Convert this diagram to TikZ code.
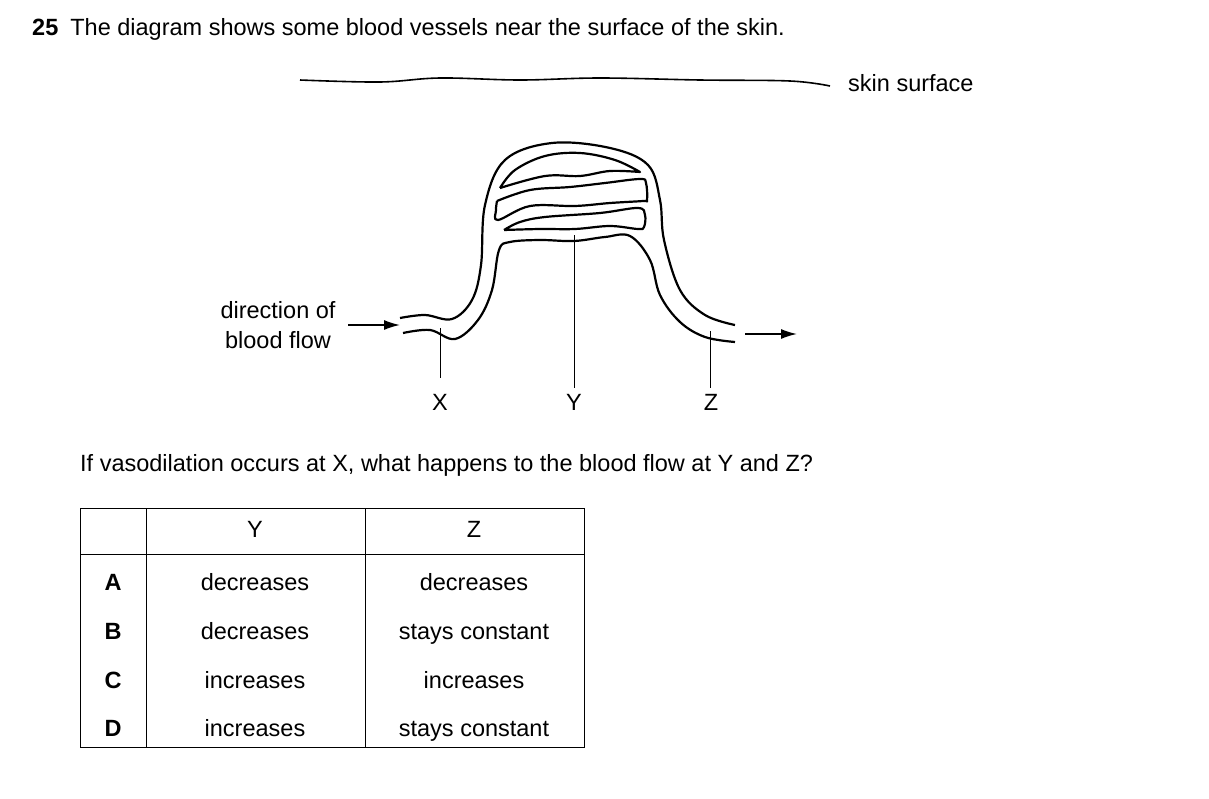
\documentclass[tikz,border=0pt]{standalone}
\usepackage{fontspec}
\setmainfont{Liberation Sans}
\usetikzlibrary{arrows.meta}
\begin{document}
\begin{tikzpicture}[x=1pt,y=-1pt,
  txt/.style={font=\fontsize{23.5}{28}\selectfont,inner sep=0pt,text height=17pt,text depth=5pt},
  ves/.style={line width=2.2pt,line join=round},
  thin/.style={line width=1pt},
  arr/.style={line width=1.6pt,-{Latex[length=16pt,width=10pt]}}]
\useasboundingbox (0,0) rectangle (1209,798);
\node[txt,anchor=west] (q) at (32,29) {\textbf{25}\hspace{12pt}The diagram shows some blood vessels near the surface of the skin.};
% skin
\draw[line width=1.6pt] plot[smooth,tension=0.6] coordinates {(300,80) (380,82) (440,78) (520,80) (600,78) (700,80) (790,81) (830,86)};
\node[txt,anchor=west] (skin) at (848,85) {skin surface};
% outer vessel
\draw[ves] plot[smooth,tension=0.6] coordinates {(400,318) (425,315) (452,319) (472,300) (481,265) (485,205) (505,160) (552,143) (610,148) (648,165) (660,200) (664,240) (680,290) (705,315) (735,325)};
\draw[ves] plot[smooth,tension=0.6] coordinates {(403,333) (430,330) (455,339) (478,320) (492,290) (499,250) (510,242) (540,240) (574,241) (605,237) (630,236) (650,260) (660,295) (680,322) (705,337) (735,342)};
% capillary loops
\draw[ves] plot[smooth,tension=0.6] coordinates {(500,188) (515,170) (545,156) (580,153) (615,160) (640,172)} -- plot[smooth,tension=0.6] coordinates {(640,172) (610,171) (580,176) (545,176) (500,188)};
\draw[ves] plot[smooth,tension=0.6] coordinates {(497,201) (530,190) (570,187) (605,183) (640,179) (646,183) (647,200) (643,201) (610,203) (575,206) (530,206) (498,220) (496,210) (497,201)};
\draw[ves] plot[smooth,tension=0.6] coordinates {(504,230) (520,222) (545,217) (600,213) (638,208) (645,215) (644,227) (638,229) (610,226) (575,229) (540,229) (504,230)};
% label lines
\node[txt] (X) at (440,404) {X};
\node[txt] (Y) at (574,404) {Y};
\node[txt] (Z) at (711,404) {Z};
\coordinate (xt) at (440,328);
\coordinate (yt) at (574,235);
\coordinate (zt) at (710,331);
\draw[thin] (xt) -- (440,378);
\draw[thin] (yt) -- (574,388);
\draw[thin] (zt) -- (710,388);
% arrows
\node[txt,align=center,text height=,text depth=] (dir) at (278,325) {direction of\\[2pt]blood flow};
\coordinate (a1) at (348,325); \coordinate (a2) at (400,325);
\draw[arr] (a1) -- (a2);
\coordinate (b1) at (745,334); \coordinate (b2) at (797,334);
\draw[arr] (b1) -- (b2);
\node[txt,anchor=west] (q2) at (80,465) {If vasodilation occurs at X, what happens to the blood flow at Y and Z?};
% table
\draw[line width=1pt] (80,508) rectangle (584,747);
\draw[line width=1pt] (146,508) -- (146,747) (365,508) -- (365,747) (80,554) -- (584,554);
\node[txt] (hy) at (255,531) {Y};
\node[txt] (hz) at (474,531) {Z};
\foreach \l/\y/\a/\b in {A/584/decreases/decreases, B/633/decreases/stays constant, C/682/increases/increases, D/730/increases/stays constant}{
  \node[txt] (r\l) at (113,\y) {\textbf{\l}};
  \node[txt] (y\l) at (255,\y) {\a};
  \node[txt] (z\l) at (474,\y) {\b};
}
\end{tikzpicture}
\end{document}
